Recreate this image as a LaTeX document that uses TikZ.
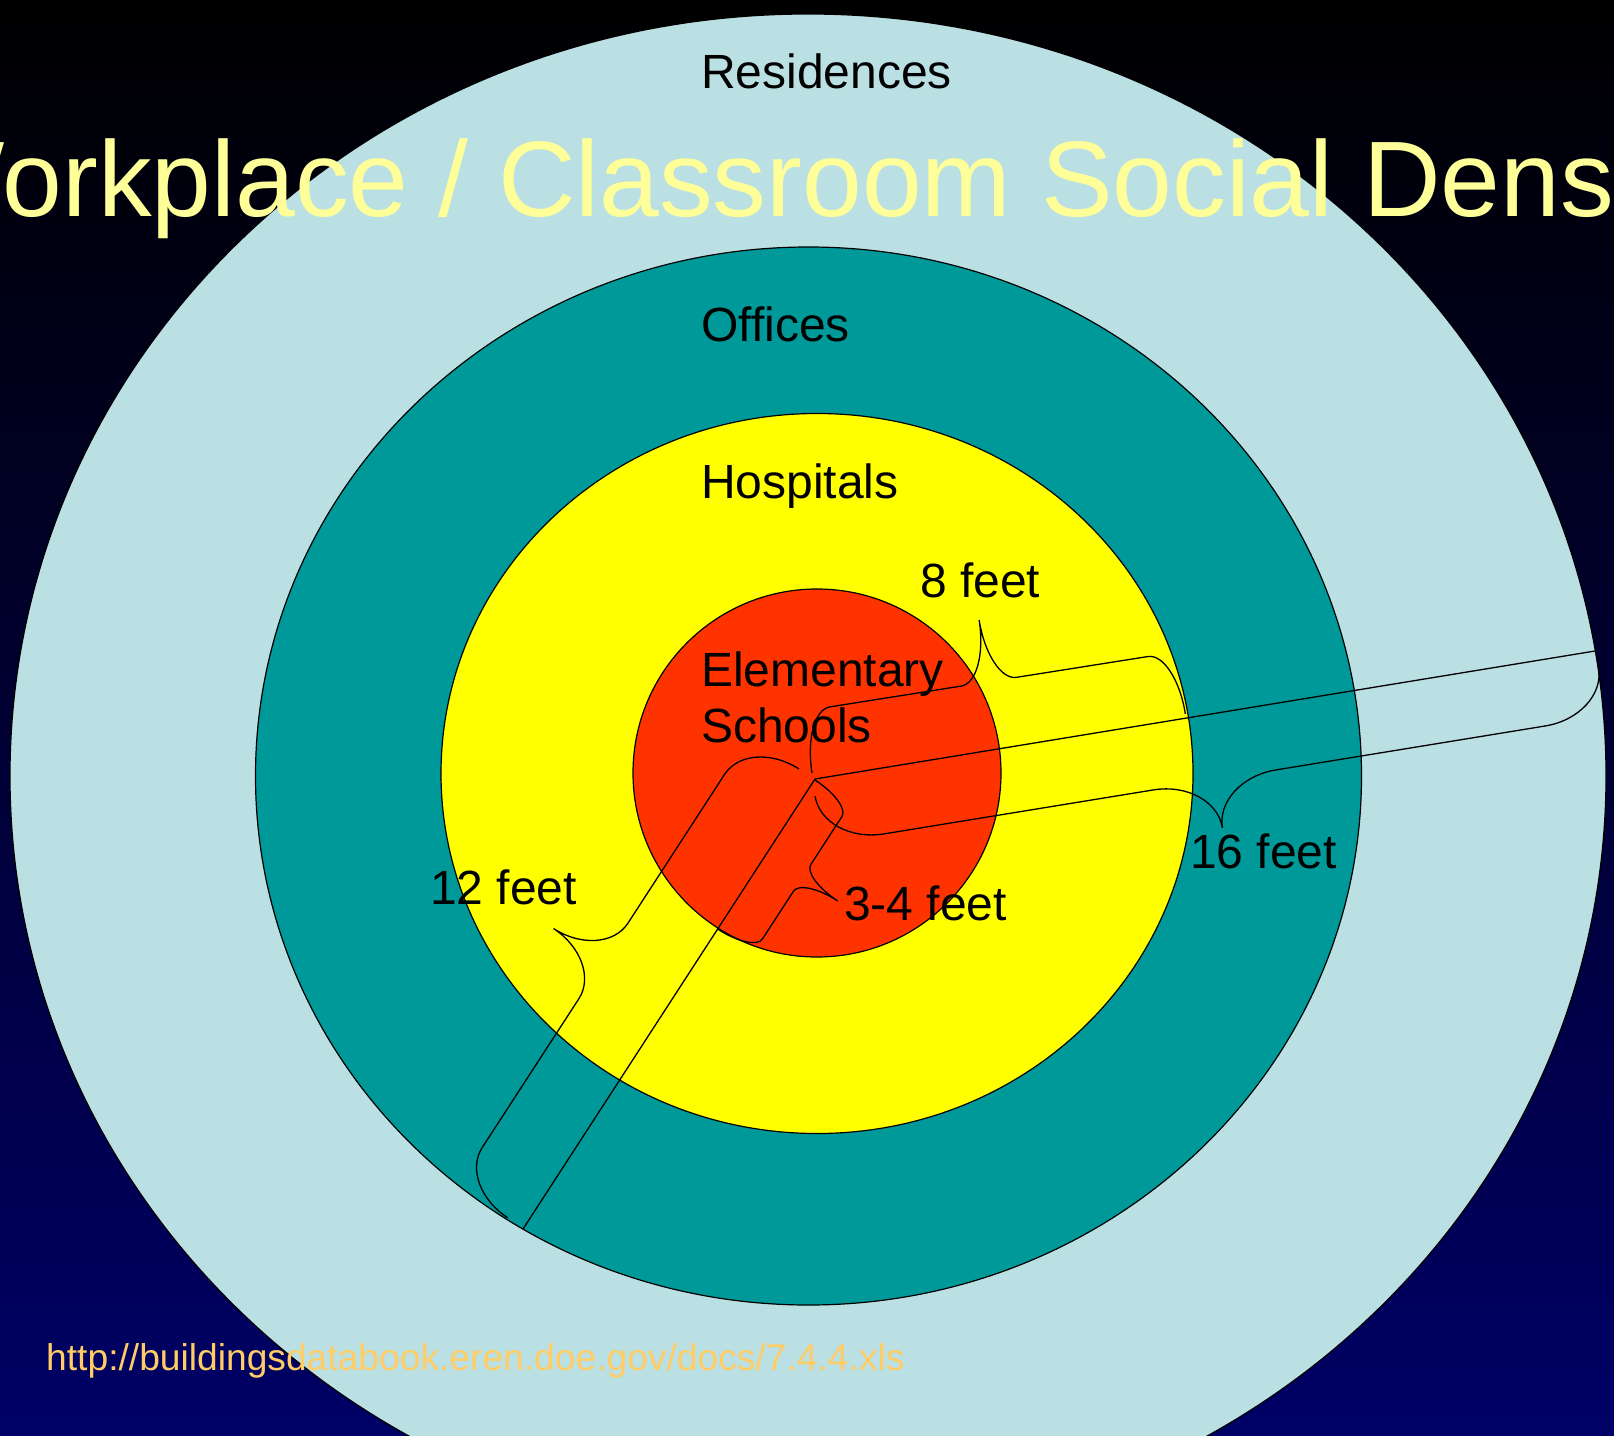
\documentclass[tikz,border=0pt]{standalone}
\usepackage{fontspec}
\setmainfont{Liberation Sans}
\usepackage{tikz}
\definecolor{navy}{RGB}{0,0,102}
\definecolor{residblue}{RGB}{187,224,227}
\definecolor{officeteal}{RGB}{0,153,153}
\definecolor{hospyellow}{RGB}{255,255,0}
\definecolor{schoolred}{RGB}{255,51,0}
\definecolor{titleyellow}{RGB}{255,255,153}
\definecolor{urlorange}{RGB}{255,204,102}
\tikzset{
    ring/.style={draw=black, line width=1.2pt}, % outline of each zone
    measure/.style={draw=black, line width=1.3pt}, % radius lines and braces
    lbl/.style={inner sep=0pt, anchor=base west, text=black,
        font=\fontsize{48}{57}\selectfont}, % zone and distance labels
}

% curly brace: start, angle, length, depth, corner
\newcommand{\ppbrace}[5]{%
  \begin{scope}[shift={#1}, rotate=#2]
    \draw[measure] (0,0)
      .. controls (0,{0.276*(#4)}) and ({0.448*#5},{(#4)/2}) .. (#5,{(#4)/2})
      -- ({#3/2-#5},{(#4)/2})
      .. controls ({#3/2-0.448*#5},{(#4)/2}) and ({#3/2},{0.724*(#4)}) .. ({#3/2},{#4})
      .. controls ({#3/2},{0.724*(#4)}) and ({#3/2+0.448*#5},{(#4)/2}) .. ({#3/2+#5},{(#4)/2})
      -- ({#3-#5},{(#4)/2})
      .. controls ({#3-0.448*#5},{(#4)/2}) and (#3,{0.276*(#4)}) .. (#3,0);
  \end{scope}}

\begin{document}
\begin{tikzpicture}[x=1pt, y=-1pt]
    \useasboundingbox (0,0) rectangle (1614,1435);
    \clip (0,0) rectangle (1614,1435);
    \fill[top color=black, bottom color=navy] (0,0) rectangle (1614,1435);

    % zones
    \filldraw[ring, fill=residblue] (808,776) ellipse [x radius=798pt, y radius=762pt];
    \filldraw[ring, fill=officeteal] (808.5,776) ellipse [x radius=553pt, y radius=529pt];
    \filldraw[ring, fill=hospyellow] (817,773.5) ellipse [x radius=376pt, y radius=360pt];
    \filldraw[ring, fill=schoolred] (817,773) circle [radius=184pt];

    % radius lines
    \coordinate (ctr) at (815,779);
    \coordinate (rim16) at (1595,651);
    \coordinate (rim12) at (523,1229);
    \draw[measure] (ctr) -- (rim16);
    \draw[measure] (ctr) -- (rim12);

    % braces
    \ppbrace{(815,796)}{9.27}{794}{97}{62}
    \ppbrace{(812,773)}{9}{378}{-125}{28}
    \ppbrace{(799,769)}{237}{535}{119}{45}
    \ppbrace{(815,780)}{237}{178}{-85}{16}

    \node[lbl] (lblRes) at (701,88) {Residences};
    \node[lbl] (lblOff) at (701,341) {Offices};
    \node[lbl] (lblHosp) at (701,498) {Hospitals};
    \node[lbl] (lblElem) at (701,686) {Elementary};
    \node[lbl] (lblSchools) at ([yshift=-56pt]lblElem.base west) {Schools};
    \node[lbl] (lblEight) at (920,597) {8 feet};
    \node[lbl] (lblSixteen) at (1190,868) {16 feet};
    \node[lbl] (lblTwelve) at (430,904) {12 feet};
    \node[lbl] (lblThree) at (844,920) {3-4 feet};

    \node[inner sep=0pt, anchor=base, text=titleyellow,
        font=\fontsize{107.4}{120}\selectfont] (title) at (812.5,216)
        {Workplace / Classroom Social Density};
    \node[inner sep=0pt, anchor=base west, text=urlorange,
        font=\fontsize{37.2}{44}\selectfont] (url) at (46,1370)
        {http://buildingsdatabook.eren.doe.gov/docs/7.4.4.xls};
\end{tikzpicture}
\end{document}
